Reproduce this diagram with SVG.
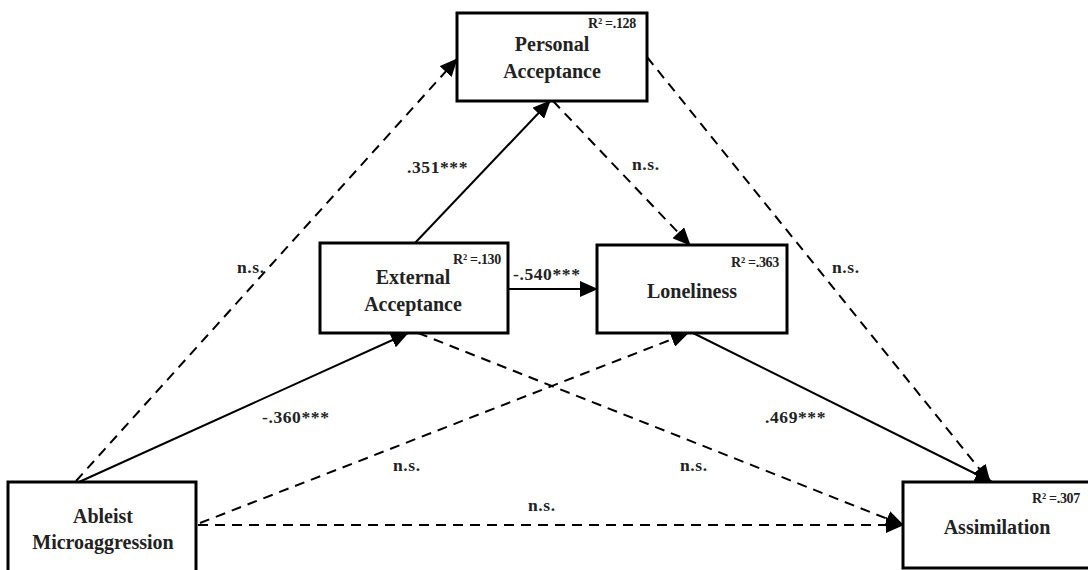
<svg xmlns="http://www.w3.org/2000/svg" width="1088" height="570" viewBox="0 0 1088 570">
<defs>
<marker id="ah" markerWidth="18" markerHeight="16" refX="17" refY="8" orient="auto" markerUnits="userSpaceOnUse">
<path d="M0,0 L18,8 L0,16 Z" fill="#000"/>
</marker>
<style>
.box{fill:#fff;stroke:#000;stroke-width:3}
.t{font-family:"Liberation Serif",serif;font-weight:bold;font-size:20px;fill:#222;text-anchor:middle}
.r{font-family:"Liberation Serif",serif;font-weight:bold;font-size:14px;fill:#222;text-anchor:end;letter-spacing:-0.3px}
.l{font-family:"Liberation Serif",serif;font-weight:bold;font-size:17.5px;fill:#222;letter-spacing:0.6px}
.s{stroke:#000;stroke-width:2;fill:none;marker-end:url(#ah)}
.d{stroke:#000;stroke-width:2;fill:none;stroke-dasharray:10,7;marker-end:url(#ah)}
</style>
</defs>
<rect width="1088" height="570" fill="#fff"/>
<g id="connectors">
<line class="d" x1="76" y1="481" x2="457" y2="59"/>
<line class="s" x1="415" y1="243" x2="550" y2="101"/>
<line class="d" x1="553" y1="101" x2="690" y2="245"/>
<line class="d" x1="647" y1="57" x2="990" y2="482"/>
<line class="s" x1="508" y1="289" x2="597" y2="289"/>
<line class="s" x1="79" y1="482" x2="408" y2="333"/>
<line class="d" x1="418" y1="333" x2="903" y2="525"/>
<line class="s" x1="693" y1="333" x2="992" y2="482"/>
<line class="d" x1="200" y1="523" x2="688" y2="333"/>
<line class="d" x1="198" y1="525" x2="903" y2="525"/>
<text class="l" x="407" y="173">.351***</text>
<text class="l" x="237" y="273">n.s.</text>
<text class="l" x="513" y="280">-.540***</text>
<text class="l" x="632" y="170">n.s.</text>
<text class="l" x="832" y="273">n.s.</text>
<text class="l" x="262" y="423">-.360***</text>
<text class="l" x="393" y="471">n.s.</text>
<text class="l" x="680" y="471">n.s.</text>
<text class="l" x="528" y="511">n.s.</text>
<text class="l" x="765" y="423">.469***</text>
</g>
<g id="personal">
<rect class="box" x="457" y="13" width="190" height="88"/>
<text class="r" x="636" y="28">R² =.128</text>
<text class="t" x="552" y="51">Personal</text>
<text class="t" x="552" y="78">Acceptance</text>
</g>
<g id="external">
<rect class="box" x="320" y="243" width="188" height="90"/>
<text class="r" x="501" y="264">R² =.130</text>
<text class="t" x="413" y="284">External</text>
<text class="t" x="413" y="311">Acceptance</text>
</g>
<g id="loneliness">
<rect class="box" x="597" y="245" width="190" height="88"/>
<text class="r" x="779" y="267">R² =.363</text>
<text class="t" x="692" y="298">Loneliness</text>
</g>
<g id="ableist">
<rect class="box" x="8" y="482" width="188" height="100"/>
<text class="t" x="103" y="523">Ableist</text>
<text class="t" x="103" y="549">Microaggression</text>
</g>
<g id="assimilation">
<rect class="box" x="903" y="482" width="200" height="86"/>
<text class="r" x="1080" y="503">R² =.307</text>
<text class="t" x="997" y="534">Assimilation</text>
</g>
</svg>
